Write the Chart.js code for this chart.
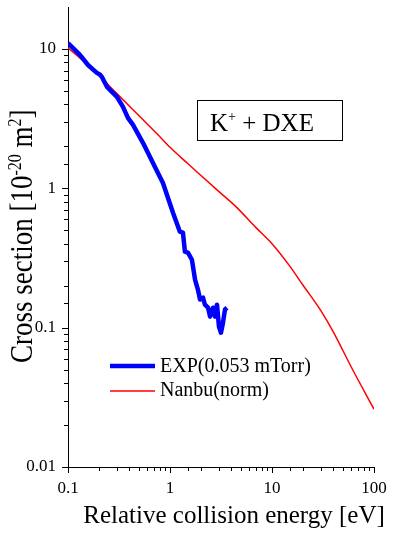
<!DOCTYPE html>
<html>
<head>
<meta charset="utf-8">
<script src="https://cdn.jsdelivr.net/npm/chart.js@4.4.1/dist/chart.umd.min.js"></script>
<style>
  html, body { margin: 0; padding: 0; background: #fff; }
  #wrap { width: 393px; height: 533px; }
</style>
</head>
<body>
<div id="wrap"><canvas id="cs" width="393" height="533"></canvas></div>
<script>
// Данные -------------------------------------------------------------------------------------------------------------
var expEnergy = [0.1, 0.131, 0.157, 0.192, 0.205, 0.215, 0.241, 0.302, 0.346, 0.387, 0.434, 0.543, 0.681, 0.853,
    1.07, 1.25, 1.34, 1.40, 1.50, 1.64, 1.76, 1.88, 1.97, 2.11, 2.20, 2.36, 2.47, 2.64, 2.76, 2.89, 3.02, 3.16,
    3.31, 3.46, 3.62];
var expSigma = [11.0, 9.06, 7.67, 6.73, 6.55, 6.30, 5.35, 4.53, 3.84, 3.20, 2.85, 2.12, 1.52, 1.09,
    0.667, 0.488, 0.48, 0.351, 0.345, 0.307, 0.221, 0.187, 0.159, 0.164, 0.146, 0.139, 0.120, 0.139, 0.120, 0.146,
    0.102, 0.092, 0.109, 0.135, 0.139];

var nanbuEnergy = [0.1, 0.15, 0.2, 0.3, 0.5, 0.75, 1.0, 1.5, 2.0, 3.0, 4.5, 7, 10, 15, 20, 30, 40, 60, 100];
var nanbuSigma = [10.2, 7.9, 6.5, 4.8, 3.3, 2.45, 1.97, 1.5, 1.24, 0.95, 0.73, 0.52, 0.40, 0.275, 0.203, 0.133,
    0.093, 0.052, 0.026];

var seriesNames = ['EXP(0.053 mTorr)', 'Nanbu(norm)'];
var xTickLabels = [0.1, 1, 10, 100];
var yTickLabels = [0.01, 0.1, 1, 10];

var xTitle = 'Relative collision energy [eV]';
var yTitle = [['Cross section [10', false], ['-20', true], [' m', false], ['2', true], [']', false]];
var boxText = [['K', false], ['+', true], [' + DXE', false]];

var FONT = '"Liberation Serif", "Times New Roman", serif';

function majorOf(v, list) {
    for (var i = 0; i < list.length; i++) {
        if (Math.abs(v - list[i]) / list[i] < 1e-6) return list[i];
    }
    return null;
}

// текст с верхними индексами
function drawRich(ctx, parts, x, y, size, supSize, supRise) {
    var cx = x;
    parts.forEach(function (p) {
        ctx.font = (p[1] ? supSize : size) + 'px ' + FONT;
        ctx.fillText(p[0], cx, p[1] ? y - supRise : y);
        cx += ctx.measureText(p[0]).width;
    });
    return cx - x;
}

// Оформление: засечки, подписи осей, рамка, легенда ------------------------------------------------------------------
var decorPlugin = {
    id: 'decor',
    afterDraw: function (chart) {
        var ctx = chart.ctx;
        var xs = chart.scales.x, ys = chart.scales.y;
        var area = chart.chartArea;
        ctx.save();
        ctx.strokeStyle = '#000';
        ctx.lineWidth = 1;

        xs.ticks.forEach(function (t) {
            var px = Math.round(xs.getPixelForValue(t.value)) + 0.5;
            var len = majorOf(t.value, xTickLabels) !== null ? 6 : 4;
            ctx.beginPath();
            ctx.moveTo(px, area.bottom);
            ctx.lineTo(px, area.bottom + len);
            ctx.stroke();
        });
        ys.ticks.forEach(function (t) {
            if (t.value > 10.0001) return;
            var py = Math.round(ys.getPixelForValue(t.value)) + 0.5;
            var len = majorOf(t.value, yTickLabels) !== null ? 6 : 4;
            ctx.beginPath();
            ctx.moveTo(area.left, py);
            ctx.lineTo(area.left - len, py);
            ctx.stroke();
        });

        ctx.fillStyle = '#000';
        ctx.textBaseline = 'alphabetic';
        ctx.textAlign = 'left';

        // подпись оси X
        ctx.font = '25px ' + FONT;
        var xw = ctx.measureText(xTitle).width;
        ctx.fillText(xTitle, 234 - xw / 2, 523);

        // подпись оси Y
        ctx.save();
        ctx.translate(32, 363);
        ctx.rotate(-Math.PI / 2);
        ctx.scale(1, 1.15);
        drawRich(ctx, yTitle, 0, 0, 27, 16, 10);
        ctx.restore();

        // рамка с реакцией
        ctx.strokeRect(197.5, 100.5, 145, 40);
        drawRich(ctx, boxText, 210, 131, 25, 14, 10);

        // легенда
        var ds = chart.data.datasets;
        var rows = [366, 391];
        var baselines = [372, 396];
        ds.forEach(function (d, i) {
            ctx.strokeStyle = d.borderColor;
            ctx.lineWidth = d.borderWidth;
            ctx.beginPath();
            ctx.moveTo(110, rows[i]);
            ctx.lineTo(155, rows[i]);
            ctx.stroke();
            ctx.fillStyle = '#000';
            ctx.font = '20px ' + FONT;
            ctx.fillText(d.label, 160, baselines[i]);
        });
        ctx.restore();
    }
};

var ctx = document.getElementById('cs').getContext('2d');
var chart = new Chart(ctx, {
    type: 'line',
    data: {
        datasets: [
            {
                label: seriesNames[0],
                data: expEnergy.map(function (e, i) { return {x: e, y: expSigma[i]}; }),
                borderColor: '#0000ff',
                borderWidth: 4.5,
                pointRadius: 0,
                tension: 0,
                borderJoinStyle: 'round',
                fill: false
            },
            {
                label: seriesNames[1],
                data: nanbuEnergy.map(function (e, i) { return {x: e, y: nanbuSigma[i]}; }),
                borderColor: '#ff0000',
                borderWidth: 1.5,
                pointRadius: 0,
                cubicInterpolationMode: 'monotone',
                fill: false
            }
        ]
    },
    options: {
        responsive: false,
        animation: false,
        devicePixelRatio: 1,
        layout: { padding: { top: 7, right: 19, left: 0, bottom: 0 } },
        plugins: {
            legend: { display: false },
            tooltip: { enabled: false }
        },
        scales: {
            x: {
                type: 'logarithmic',
                min: 0.1,
                max: 100,
                grid: { display: false, drawTicks: true, tickLength: 6 },
                border: { display: true, color: '#000', width: 1 },
                ticks: {
                    autoSkip: false,
                    maxRotation: 0,
                    padding: 5,
                    color: '#000',
                    font: { family: FONT, size: 17 },
                    callback: function (v) {
                        var m = majorOf(v, xTickLabels);
                        return m === null ? '' : String(m);
                    }
                },
                afterFit: function (s) {
                    s.height = 66;
                    s.paddingLeft = 0;
                    s.paddingRight = 0;
                }
            },
            y: {
                type: 'logarithmic',
                min: 0.01,
                max: 20,
                grid: { display: false, drawTicks: true, tickLength: 6 },
                border: { display: true, color: '#000', width: 1 },
                ticks: {
                    autoSkip: false,
                    padding: 6,
                    color: '#000',
                    font: { family: FONT, size: 17 },
                    callback: function (v) {
                        var m = majorOf(v, yTickLabels);
                        return m === null ? '' : String(m);
                    }
                },
                afterFit: function (s) {
                    s.width = 68;
                    s.paddingTop = 0;
                    s.paddingBottom = 0;
                }
            }
        }
    },
    plugins: [decorPlugin]
});
</script>
</body>
</html>
